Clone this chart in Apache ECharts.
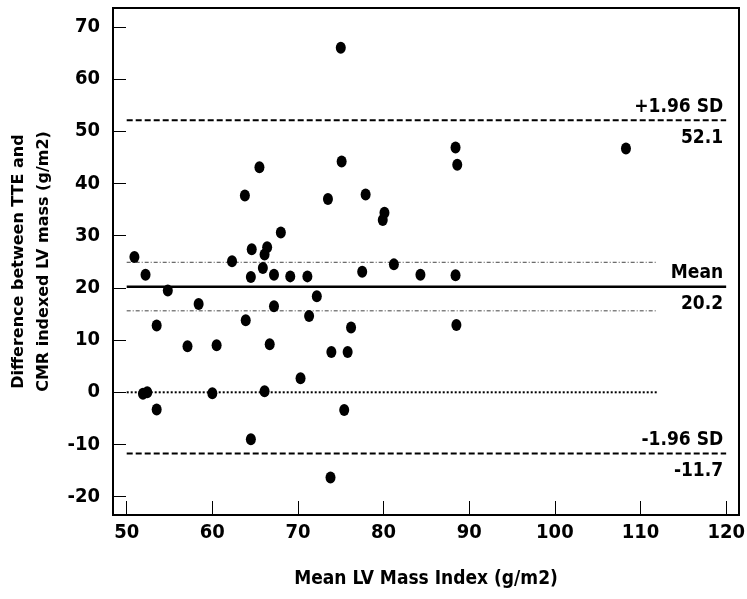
<!DOCTYPE html>
<html>
<head>
<meta charset="utf-8">
<script src="https://cdn.jsdelivr.net/npm/echarts@6/dist/echarts.min.js"></script>
<style>
  html, body { margin: 0; padding: 0; background: #fff; }
  #chart { width: 747px; height: 599px; }
</style>
</head>
<body>
<div id="chart"></div>
<script>
// Bland-Altman: TTE vs CMR indexed LV mass
const meanLV = [75.0, 65.5, 75.1, 63.8, 73.5, 68.0, 88.4, 88.6, 77.9, 80.1,
  79.9, 108.3, 50.9, 52.2, 64.6, 66.4, 66.1, 65.9, 62.3, 64.5,
  67.2, 69.1, 71.1, 72.2, 71.3, 67.2, 54.8, 58.4, 53.5, 63.9,
  57.1, 60.5, 66.7, 70.3, 73.9, 75.8, 51.9, 52.4, 60.0, 66.1,
  53.5, 75.4, 64.5, 73.8, 76.2, 77.5, 81.2, 84.3, 88.4, 88.5];
const diff = [66.0, 43.1, 44.2, 37.7, 37.0, 30.6, 46.9, 43.6, 37.9, 34.4,
  33.0, 46.7, 25.9, 22.5, 27.4, 27.8, 26.4, 23.8, 25.1, 22.1,
  22.5, 22.2, 22.2, 18.4, 14.6, 16.5, 19.5, 16.9, 12.8, 13.8,
  8.8, 9.0, 9.2, 2.7, 7.7, 7.7, -0.3, 0.0, -0.2, 0.2,
  -3.3, -3.4, -9.0, -16.3, 12.4, 23.1, 24.5, 22.5, 22.4, 12.9];

const xTicks = [50, 60, 70, 80, 90, 100, 110, 120];
const yTicks = [-20, -10, 0, 10, 20, 30, 40, 50, 60, 70];

const meanDiff = 20.2;
const upperLoA = 52.1;
const lowerLoA = -11.7;
const ciUpper = 24.9;
const ciLower = 15.6;
const lineRange = [50, 120];   // limits + mean
const ciRange = [50, 112];     // CI + zero line

const font = "'DejaVu Sans Condensed', 'Liberation Sans Narrow', 'DejaVu Sans', sans-serif";

function hLine(y, range, style) {
  return {
    type: 'line',
    data: [[range[0], y], [range[1], y]],
    symbol: 'none',
    silent: true,
    lineStyle: Object.assign({ color: '#000' }, style),
    z: 1
  };
}

function tag(x, y, text, above) {
  return {
    type: 'scatter',
    data: [[x, y]],
    symbolSize: 0,
    silent: true,
    itemStyle: { opacity: 1 },
    label: {
      show: true,
      formatter: text,
      position: above ? 'top' : 'bottom',
      align: 'right',
      offset: [-3, above ? -4 : 8],
      distance: 0,
      color: '#000',
      fontFamily: font,
      fontWeight: 'bold',
      fontSize: 19
    }
  };
}

const chart = echarts.init(document.getElementById('chart'));
chart.setOption({
  animation: false,
  grid: {
    left: 113, right: 8, top: 8, bottom: 84,
    outerBoundsMode: 'none',
    show: true, borderColor: '#000', borderWidth: 2
  },
  xAxis: {
    type: 'value',
    min: 48.4, max: 121.5,
    name: 'Mean LV Mass Index (g/m2)',
    nameLocation: 'middle',
    nameGap: 55,
    nameTextStyle: { fontFamily: font, fontWeight: 'bold', fontSize: 19, color: '#000' },
    axisLine: { show: true, onZero: false, lineStyle: { color: '#000', width: 2 } },
    axisTick: { show: true, inside: true, length: 14, customValues: xTicks, lineStyle: { color: '#000', width: 1 } },
    axisLabel: { customValues: xTicks, margin: 8, color: '#000', fontFamily: font, fontWeight: 'bold', fontSize: 20 },
    splitLine: { show: false }
  },
  yAxis: {
    type: 'value',
    min: -23.5, max: 73.6,
    name: 'Difference between TTE and\nCMR indexed LV mass (g/m2)',
    nameLocation: 'middle',
    nameGap: 56,
    nameTextStyle: { fontFamily: 'DejaVu Sans', fontWeight: 'bold', fontSize: 16, lineHeight: 25, color: '#000' },
    axisLine: { show: true, onZero: false, lineStyle: { color: '#000', width: 2 } },
    axisTick: { show: true, inside: true, length: 13, customValues: yTicks, lineStyle: { color: '#000', width: 1 } },
    axisLabel: { customValues: yTicks, margin: 13, color: '#000', fontFamily: font, fontWeight: 'bold', fontSize: 20 },
    splitLine: { show: false }
  },
  series: [
    hLine(upperLoA, lineRange, { width: 2, type: [6, 3] }),
    hLine(lowerLoA, lineRange, { width: 2, type: [6, 3] }),
    hLine(meanDiff, lineRange, { width: 2.5, type: 'solid' }),
    hLine(ciUpper, ciRange, { width: 1, color: '#444', type: [4, 2, 1, 2] }),
    hLine(ciLower, ciRange, { width: 1, color: '#444', type: [4, 2, 1, 2] }),
    hLine(0, ciRange, { width: 2, type: [2, 2] }),
    {
      type: 'scatter',
      data: meanLV.map((x, i) => [x, diff[i]]),
      symbol: 'circle',
      symbolSize: [10, 12],
      itemStyle: { color: '#000', opacity: 1 },
      z: 3
    },
    tag(120, upperLoA, '+1.96 SD', true),
    tag(120, upperLoA, String(upperLoA), false),
    tag(120, meanDiff, 'Mean', true),
    tag(120, meanDiff, String(meanDiff), false),
    tag(120, lowerLoA, '-1.96 SD', true),
    tag(120, lowerLoA, String(lowerLoA), false)
  ]
});
</script>
</body>
</html>
